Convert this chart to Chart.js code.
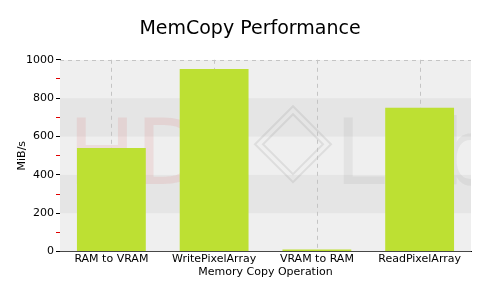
<!DOCTYPE html>
<html><head><meta charset="utf-8">
<script src="https://cdn.jsdelivr.net/npm/chart.js@4/dist/chart.umd.min.js"></script>
<style>html,body{margin:0;padding:0;background:#fff}#wrap{width:500px;height:300px}</style>
</head><body><div id="wrap"><canvas id="c" width="500" height="300"></canvas></div>
<script>
const categories = ["RAM to VRAM", "WritePixelArray", "VRAM to RAM", "ReadPixelArray"];
const values = [540, 952, 11, 750];
const yTicks = [0, 200, 400, 600, 800, 1000];

const bgPlugin = {
  id: 'bg',
  beforeDatasetsDraw(chart) {
    const {ctx, chartArea: a, scales: {x, y}} = chart;
    ctx.save();
    ctx.beginPath(); ctx.rect(a.left, a.top, a.right - a.left, a.bottom - a.top); ctx.clip();
    ctx.fillStyle = '#efefef';
    ctx.fillRect(a.left, a.top, a.right - a.left, a.bottom - a.top);
    ctx.fillStyle = '#e5e5e5';
    [[200, 400], [600, 800]].forEach(([lo, hi]) => {
      const t = y.getPixelForValue(hi), b = y.getPixelForValue(lo);
      ctx.fillRect(a.left, t, a.right - a.left, b - t);
    });
    // watermark
    const wy = y.getPixelForValue(350);
    ctx.textBaseline = 'alphabetic';
    ctx.font = '90px "DejaVu Sans"';
    ctx.fillStyle = 'rgba(220,70,70,0.11)';
    ctx.fillText('HD', a.left + 8, wy);
    ctx.fillStyle = 'rgba(110,110,110,0.09)';
    ctx.fillText('Lab', a.left + 275, wy);
    // chip logo
    const cx = a.left + 233, cy = y.getPixelForValue(560);
    ctx.strokeStyle = 'rgba(150,150,150,0.2)';
    ctx.lineWidth = 2;
    [38, 30].forEach(r => {
      ctx.beginPath();
      ctx.moveTo(cx, cy - r); ctx.lineTo(cx + r, cy); ctx.lineTo(cx, cy + r); ctx.lineTo(cx - r, cy); ctx.closePath();
      ctx.stroke();
    });
    ctx.restore();
    ctx.save();
    // dashed grid
    ctx.strokeStyle = '#c4c4c4';
    ctx.lineWidth = 1;
    ctx.setLineDash([4, 4]);
    categories.forEach((c, i) => {
      const px = Math.round(x.getPixelForValue(i)) + 0.5;
      ctx.beginPath(); ctx.moveTo(px, a.top); ctx.lineTo(px, a.bottom); ctx.stroke();
    });
    const ty = Math.round(y.getPixelForValue(1000)) + 0.5;
    ctx.beginPath(); ctx.moveTo(a.left, ty); ctx.lineTo(a.right, ty); ctx.stroke();
    ctx.restore();
  }
};

new Chart(document.getElementById('c'), {
  type: 'bar',
  data: {
    labels: categories,
    datasets: [{ data: values, backgroundColor: '#bde033', borderWidth: 0,
      categoryPercentage: 1, barPercentage: 0.67, yAxisID: 'y' }]
  },
  plugins: [bgPlugin],
  options: {
    responsive: false, animation: false,
    layout: { padding: { left: 0, right: 0, top: 0, bottom: 21 } },
    plugins: {
      legend: { display: false }, tooltip: { enabled: false },
      title: { display: true, text: 'MemCopy Performance', color: '#000',
        font: { family: '"DejaVu Sans"', size: 19, weight: 'normal' }, padding: { top: 18, bottom: 19 } }
    },
    scales: {
      x: {
        grid: { display: false, drawTicks: false, offset: true },
        border: { display: true, color: '#000', width: 1 },
        ticks: { color: '#000', font: { family: '"DejaVu Sans"', size: 11 }, padding: 1, maxRotation: 0 },
        title: { display: true, text: 'Memory Copy Operation', color: '#000',
          font: { family: '"DejaVu Sans"', size: 11 }, padding: { top: -1, bottom: 0 } }
      },
      y: {
        min: 0, max: 1000,
        afterFit(scale) { scale.width = 60; },
        afterBuildTicks(scale) {
          const t = [];
          for (let v = 0; v <= 1000; v += 100) t.push({ value: v });
          scale.ticks = t;
        },
        grid: { drawOnChartArea: false, drawTicks: true, tickLength: 4,
          color: c => (c.tick && c.tick.value % 200 === 0) ? '#000' : '#e00000' },
        border: { display: true, color: '#000', width: 1 },
        ticks: { color: '#000', font: { family: '"DejaVu Sans"', size: 11 }, padding: 2,
          autoSkip: false,
          callback: (v) => yTicks.includes(v) ? String(v) : '' },
        title: { display: true, text: 'MiB/s', color: '#000',
          font: { family: '"DejaVu Sans"', size: 11 }, padding: { top: 16, bottom: 0 } }
      },
      yr: {
        position: 'right', display: true,
        afterFit(scale) { scale.width = 29; },
        grid: { display: false }, border: { display: false },
        ticks: { display: false }
      }
    }
  }
});
</script></body></html>
